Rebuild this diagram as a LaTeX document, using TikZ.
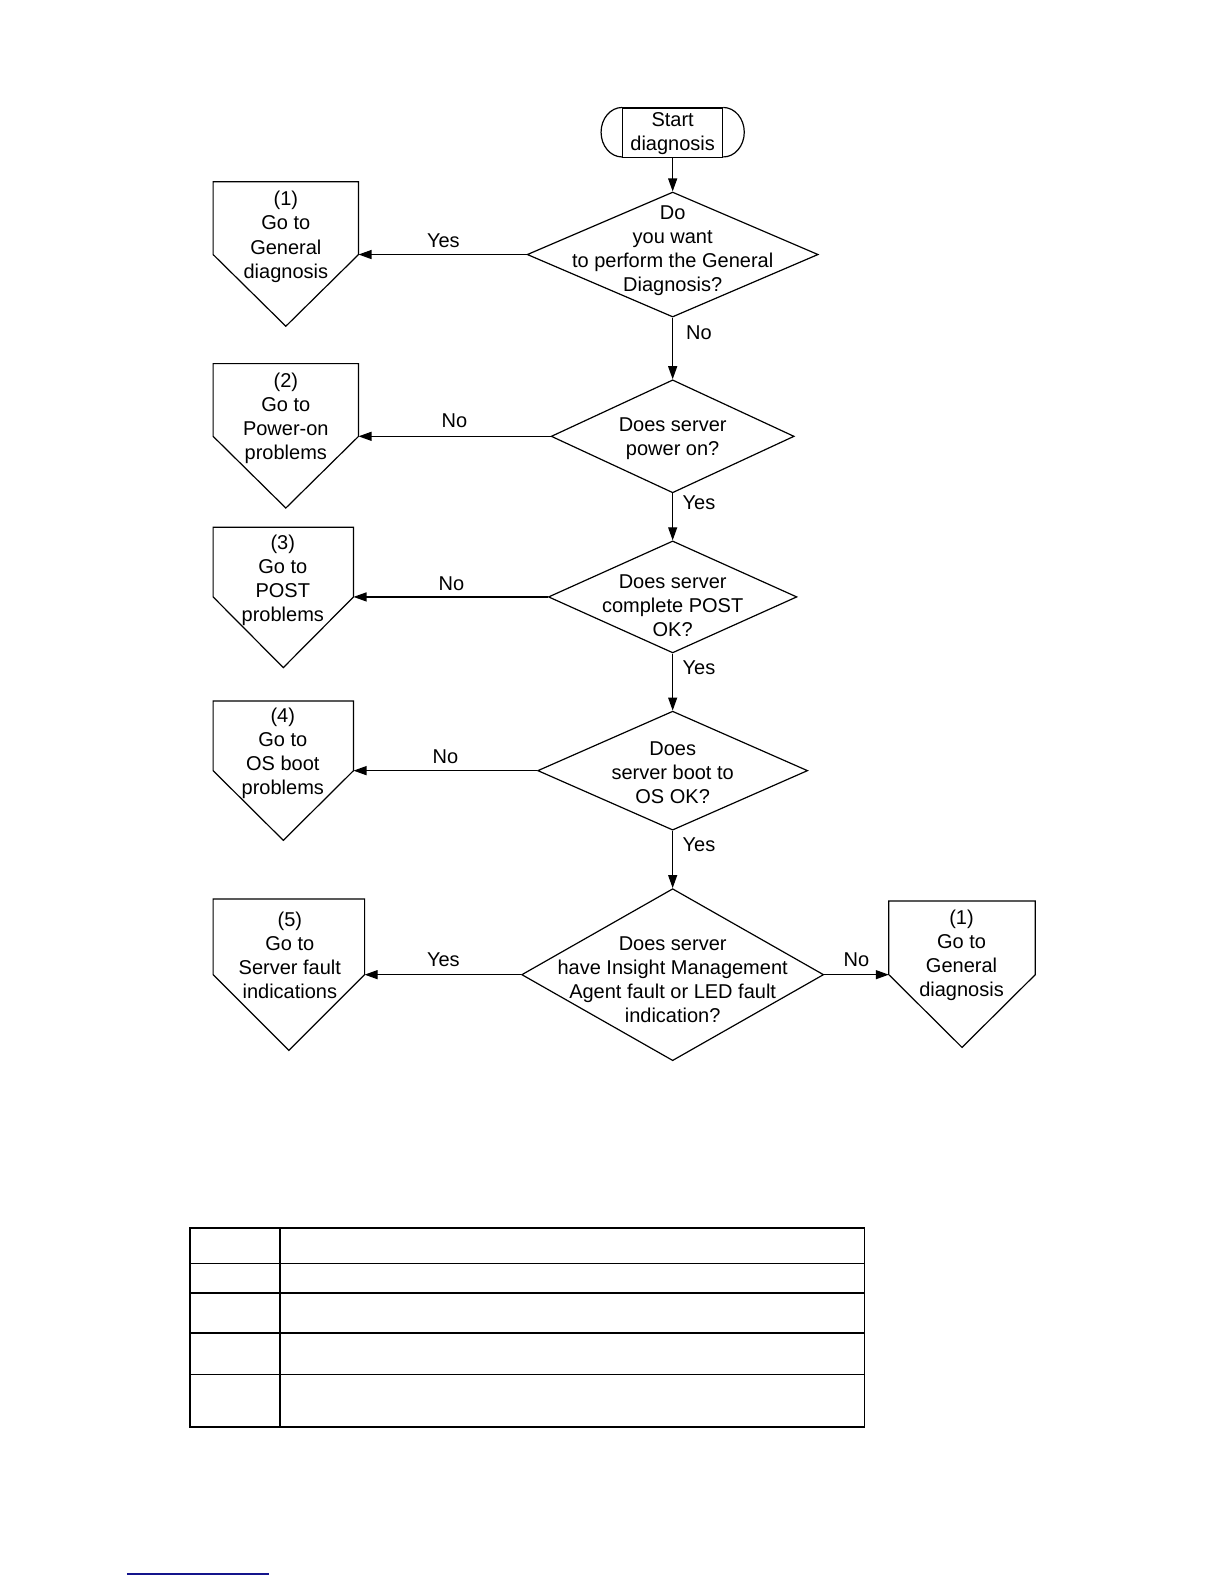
\documentclass[tikz,border=0pt]{standalone}
\usepackage{fontspec}
\setmainfont{Liberation Sans}
\usetikzlibrary{shapes.geometric,arrows.meta}
\tikzset{
  txt/.style={font=\fontsize{20}{24}\selectfont, align=center, inner sep=0pt, yshift=-2.5pt},
  dia/.style={diamond, draw, line width=1.2pt, inner sep=0pt},
  pentline/.style={draw, line width=1.2pt, line join=miter},
  arr/.style={line width=1.2pt, -{Triangle[length=13pt,width=9pt]}},
  lbl/.style={font=\fontsize{20}{24}\selectfont, inner sep=0pt, yshift=-2pt},
  startbox/.style={draw, line width=1.2pt, minimum width=100pt, minimum height=49.5pt, inner sep=0pt},
  thinrule/.style={line width=1.1pt},
  thickrule/.style={line width=1.6pt},
}
\newcommand\pentbox[6]{%
  \draw[pentline] (#2,#5) -- (#2,#4) -- (#3,#4) -- (#3,#5) -- ({(#2+#3)/2},#6) -- cycle;
  \coordinate (#1r) at (#3,#5);
  \coordinate (#1l) at (#2,#5);
}
\definecolor{linkblue}{RGB}{20,20,140}
\begin{document}
\begin{tikzpicture}[x=1.01pt, y=-1.01pt]
\useasboundingbox (0,0) rectangle (1211.9,1568.3);

% start
\node[startbox] (start) at (666,131.5) {};
\node[txt] (starttxt) at (666,130) {Start\\diagnosis};
\draw[line width=1.2pt] (start.north west) arc[start angle=90, end angle=270, x radius=21pt, y radius=24.75pt];
\draw[line width=1.2pt] (start.north east) arc[start angle=90, end angle=-90, x radius=21pt, y radius=24.75pt];

% diamonds
\node[dia, minimum width=291pt, minimum height=125pt] (d1) at (666,252) {};
\node[txt] (d1t) at (666,246) {Do\\you want\\to perform the General\\Diagnosis?};
\node[dia, minimum width=243pt, minimum height=113pt] (d2) at (666,432) {};
\node[txt] (d2t) at (666,432) {Does server\\power on?};
\node[dia, minimum width=248.5pt, minimum height=112pt] (d3) at (666,591) {};
\node[txt] (d3t) at (666,597) {Does server\\complete POST\\OK?};
\node[dia, minimum width=270pt, minimum height=119pt] (d4) at (666,763) {};
\node[txt] (d4t) at (666,763) {Does\\server boot to\\OS OK?};
\node[dia, minimum width=302pt, minimum height=172pt] (d5) at (666,965) {};
\node[txt] (d5t) at (666,968) {Does server\\have Insight Management\\Agent fault or LED fault\\indication?};

% pentagons
\pentbox{p1}{211}{355}{180}{252}{323}
\node[txt] (p1t) at (283,232) {(1)\\Go to\\General\\diagnosis};
\pentbox{p2}{211}{355}{360}{432}{503}
\node[txt] (p2t) at (283,412) {(2)\\Go to\\Power-on\\problems};
\pentbox{p3}{211}{350}{522}{591}{661}
\node[txt] (p3t) at (280,572) {(3)\\Go to\\POST\\problems};
\pentbox{p4}{211}{350}{694}{763}{832}
\node[txt] (p4t) at (280,743) {(4)\\Go to\\OS boot\\problems};
\pentbox{p5}{211}{361}{890}{965}{1040}
\node[txt] (p5t) at (287,943) {(5)\\Go to\\Server fault\\indications};
\pentbox{p6}{880}{1025}{892}{965}{1037}
\node[txt] (p6t) at (952,943) {(1)\\Go to\\General\\diagnosis};

% connectors
\draw[arr] (start.south) -- (d1.north);
\draw[arr] (d1.south) -- (d2.north);
\draw[arr] (d2.south) -- (d3.north);
\draw[arr] (d3.south) -- (d4.north);
\draw[arr] (d4.south) -- (d5.north);
\draw[arr] (d1.west) -- (p1r);
\draw[arr] (d2.west) -- (p2r);
\draw[arr] (d3.west) -- (p3r);
\draw[arr] (d4.west) -- (p4r);
\draw[arr] (d5.west) -- (p5r);
\draw[arr] (d5.east) -- (p6l);

% labels
\node[lbl] (l1) at (439,236) {Yes};
\node[lbl] (l2) at (692,327) {No};
\node[lbl] (l3) at (450,415) {No};
\node[lbl] (l4) at (692,496) {Yes};
\node[lbl] (l5) at (447,576) {No};
\node[lbl] (l6) at (692,659) {Yes};
\node[lbl] (l7) at (441,747) {No};
\node[lbl] (l8) at (692,834) {Yes};
\node[lbl] (l9) at (439,948) {Yes};
\node[lbl] (l10) at (848,948) {No};

% table
\draw[thickrule] (188,1216) rectangle (856,1413);
\draw[thinrule] (188,1251) -- (856,1251);
\draw[thickrule] (188,1280) -- (856,1280);
\draw[thickrule] (188,1320) -- (856,1320);
\draw[thickrule] (188,1361) -- (856,1361);
\draw[thickrule] (277,1216) -- (277,1413);

% blue rule
\draw[linkblue, line width=1.8pt] (125.5,1558) -- (266,1558);
\end{tikzpicture}
\end{document}
